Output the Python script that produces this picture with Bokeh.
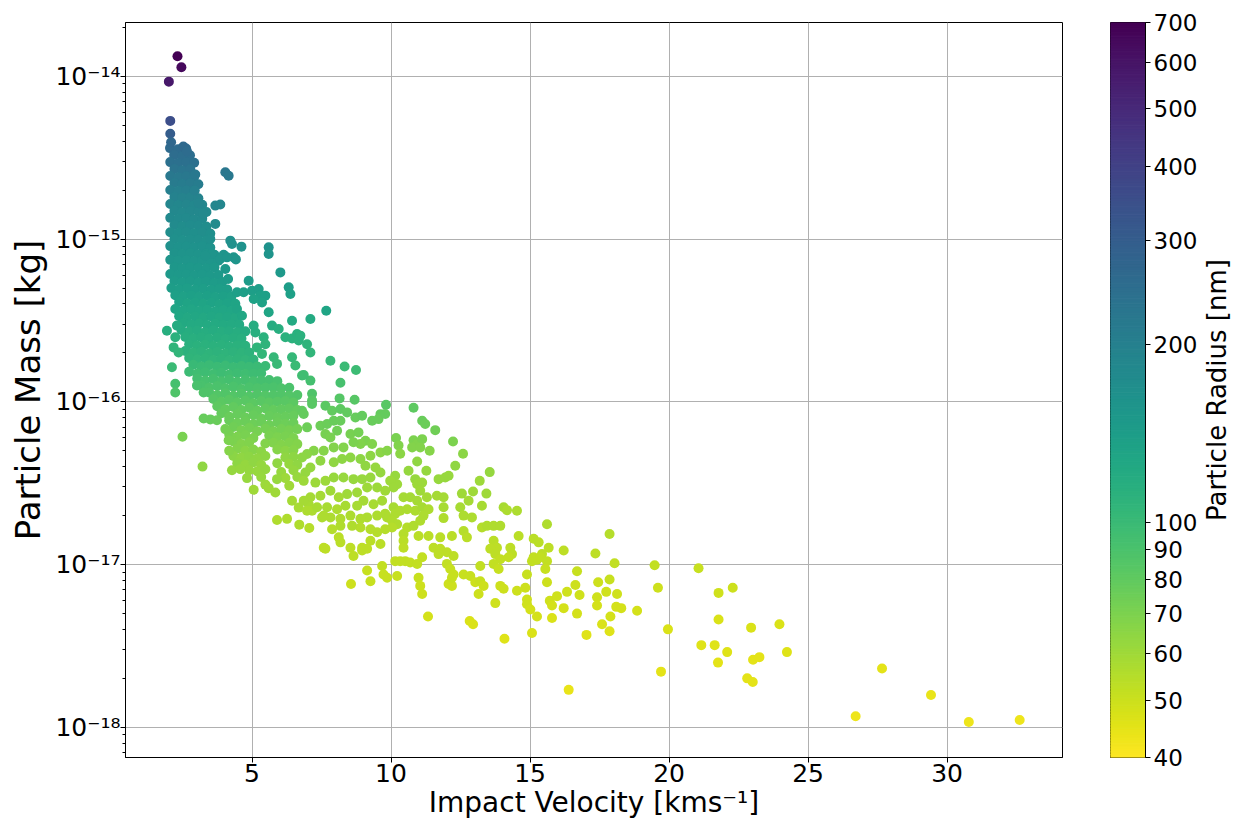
import numpy as np
from bokeh.plotting import figure
from bokeh.layouts import row
from bokeh.models import (ColumnDataSource, Range1d, FixedTicker, CustomJSTickFormatter,
                          PrintfTickFormatter, LogColorMapper)
from bokeh.core.properties import value
from bokeh.palettes import Viridis256
from bokeh.embed import file_html
from bokeh.resources import INLINE

# ---------------- data ----------------
# velocity in km/s, mass in femtograms (1 fg = 1e-18 kg), radius in nm

# dense core of the distribution, listed row by row (top to bottom)
core_velocity = [
    2.05, 2.34, 2.63,
    2.20, 2.50, 2.77,
    2.06, 2.35, 2.64, 2.92,
    2.21, 2.49, 2.78,
    2.06, 2.35, 2.64, 2.92,
    2.21, 2.49, 2.78, 3.07,
    2.06, 2.35, 2.64, 2.92,
    2.21, 2.49, 2.78, 3.07,
    2.06, 2.35, 2.64, 2.92, 3.21,
    2.21, 2.49, 2.78, 3.07, 3.36,
    2.06, 2.35, 2.64, 2.92, 3.21,
    2.21, 2.49, 2.78, 3.07, 3.36,
    2.06, 2.35, 2.64, 2.92, 3.21, 3.50,
    2.21, 2.49, 2.78, 3.07, 3.36,
    2.06, 2.35, 2.64, 2.92, 3.21, 3.50,
    2.21, 2.49, 2.78, 3.07, 3.36, 3.65,
    2.06, 2.35, 2.64, 2.92, 3.21, 3.50, 3.79,
    2.21, 2.49, 2.78, 3.07, 3.36, 3.65,
    2.06, 2.35, 2.64, 2.92, 3.21, 3.50, 3.79,
    2.21, 2.49, 2.78, 3.07, 3.36, 3.65, 3.93,
    2.10, 2.38, 2.67, 2.96, 3.25, 3.54, 3.83, 4.11,
    2.24, 2.53, 2.82, 3.10, 3.39, 3.68, 3.97, 4.26,
    2.38, 2.67, 2.96, 3.25, 3.54, 3.83, 4.11, 4.40,
    2.24, 2.53, 2.82, 3.10, 3.39, 3.68, 3.97, 4.26,
    2.38, 2.67, 2.96, 3.25, 3.54, 3.83, 4.11, 4.40,
    2.53, 2.82, 3.10, 3.39, 3.68, 3.97, 4.26, 4.54,
    2.46, 2.74, 3.03, 3.32, 3.61, 3.90, 4.18, 4.47, 4.76,
    2.60, 2.89, 3.18, 3.46, 3.75, 4.04, 4.33, 4.62,
    2.74, 3.03, 3.32, 3.61, 3.90, 4.18, 4.47, 4.76,
    2.60, 2.89, 3.18, 3.46, 3.75, 4.04, 4.33, 4.62, 4.90,
    2.74, 3.03, 3.32, 3.61, 3.90, 4.18, 4.47, 4.76, 5.05,
    2.89, 3.18, 3.46, 3.75, 4.04, 4.33, 4.62, 4.90, 5.19, 5.48,
    2.74, 3.03, 3.32, 3.61, 3.90, 4.18, 4.47, 4.76, 5.05, 5.33,
    3.03, 3.32, 3.61, 3.90, 4.18, 4.47, 4.76, 5.05, 5.33, 5.62, 5.91,
    3.18, 3.46, 3.75, 4.04, 4.33, 4.62, 4.90, 5.19, 5.48, 5.77, 6.05, 6.34,
    3.46, 3.75, 4.04, 4.33, 4.62, 4.90, 5.19, 5.48, 5.77, 6.05, 6.34, 6.63,
    3.61, 3.90, 4.18, 4.47, 4.76, 5.05, 5.33, 5.62, 5.91, 6.20, 6.49,
    3.75, 4.04, 4.33, 4.62, 4.90, 5.19, 5.48, 5.77, 6.05, 6.34, 6.63,
    3.90, 4.18, 4.47, 4.76, 5.05, 5.33, 5.62, 5.91, 6.20, 6.49,
    4.18, 4.47, 4.76, 5.05, 5.33, 5.62, 5.91, 6.20, 6.49,
    4.33, 4.62, 4.90, 5.19, 5.48, 5.77, 6.05, 6.34, 6.63,
    4.18, 4.47, 4.76, 5.05, 5.62, 5.91, 6.20, 6.49,
    4.33, 4.62, 4.90, 5.48, 5.77, 6.05, 6.34, 6.63,
    4.47, 4.76, 5.05, 5.33, 5.91, 6.20, 6.49,
    4.33, 4.62, 4.90, 5.19, 5.48, 6.20, 6.49,
    4.47, 4.76, 5.05, 5.33, 5.91, 6.34, 6.63,
    4.90, 5.19, 5.48, 6.05, 6.49,
    5.33, 6.20, 6.63,
    5.48, 6.34,
]
core_mass_fg = [
    3620, 3560, 3600,
    3280, 3230, 3270,
    2970, 2930, 2960, 2940,
    2690, 2650, 2680,
    2440, 2400, 2430, 2410,
    2210, 2180, 2200, 2170,
    2000, 1970, 1990, 1980,
    1810, 1790, 1800, 1780,
    1640, 1620, 1630, 1610, 1625,
    1490, 1460, 1480, 1470, 1465,
    1350, 1330, 1340, 1320, 1335,
    1220, 1200, 1215, 1205, 1195,
    1100, 1090, 1105, 1085, 1095, 1080,
    1000, 985, 995, 990, 980,
    905, 895, 900, 890, 902, 888,
    820, 810, 818, 805, 815, 800,
    745, 735, 740, 730, 738, 728, 735,
    672, 662, 670, 665, 660, 668,
    610, 600, 608, 598, 605, 595, 602,
    552, 542, 550, 540, 548, 538, 545,
    500, 492, 498, 490, 495, 488, 494, 490,
    452, 445, 450, 442, 448, 440, 446, 444,
    410, 402, 408, 400, 406, 398, 404, 400,
    372, 364, 370, 362, 368, 360, 366, 362,
    336, 330, 334, 328, 335, 330, 332, 329,
    305, 298, 303, 296, 302, 297, 300, 298,
    276, 270, 274, 268, 275, 270, 272, 268, 271,
    250, 245, 249, 244, 248, 243, 247, 245,
    226, 221, 225, 220, 224, 219, 223, 221,
    205, 200, 204, 199, 203, 198, 202, 200, 201,
    186, 182, 185, 181, 184, 180, 183, 181, 182,
    169, 165, 168, 164, 167, 163, 166, 164, 165, 166,
    153, 149, 152, 148, 151, 147, 150, 148, 149, 150,
    139, 135, 138, 134, 137, 133, 136, 134, 135, 136, 134,
    126, 122, 125, 121, 124, 120, 123, 121, 122, 123, 121, 122,
    114, 110, 113, 109, 112, 108, 111, 109, 110, 111, 109, 110,
    104, 100, 103, 99, 102, 98, 101, 99, 100, 101, 99,
    94, 90, 93, 89, 92, 88, 91, 89, 90, 91, 89,
    85, 81, 84, 80, 83, 79, 82, 80, 81, 82,
    77, 74, 76, 73, 75.5, 72, 75, 73, 74,
    70, 67, 69, 66, 68.5, 66, 68, 67, 68,
    63, 61, 62.5, 60, 62, 60.5, 61.5, 60,
    57, 55, 56.5, 55.5, 56, 54.5, 56, 55,
    51.5, 50, 51, 49.5, 51, 50, 50.5,
    46.5, 45.5, 46, 45, 46.5, 45.5, 46,
    42, 41, 42.5, 41, 42, 41.5, 41,
    38, 37.5, 38.5, 37, 38,
    34.5, 34, 34.5,
    31, 30.5,
]
core_radius_nm = [
    259, 257, 258,
    251, 249, 250,
    244, 242, 243, 242,
    233, 231, 232,
    223, 221, 222, 221,
    213, 211, 212, 211,
    204, 202, 203, 203,
    196, 194, 195, 194,
    189, 187, 188, 187, 188,
    184, 182, 183, 183, 182,
    179, 177, 178, 177, 178,
    175, 173, 174, 174, 173,
    171, 169, 170, 169, 170, 169,
    167, 165, 166, 166, 165,
    164, 162, 163, 162, 163, 162,
    161, 159, 160, 159, 160, 159,
    157, 155, 156, 155, 156, 155, 156,
    154, 152, 153, 153, 152, 153,
    150, 148, 149, 148, 149, 148, 149,
    146, 144, 145, 144, 145, 144, 145,
    142, 140, 141, 140, 141, 140, 141, 140,
    138, 136, 137, 136, 137, 136, 137, 136,
    134, 132, 133, 132, 133, 132, 133, 132,
    130, 128, 129, 128, 129, 128, 129, 128,
    127, 125, 126, 125, 126, 125, 126, 125,
    123, 121, 122, 121, 122, 121, 122, 121,
    120, 118, 119, 118, 119, 118, 119, 118, 119,
    117, 115, 116, 115, 116, 115, 116, 115,
    114, 112, 113, 112, 113, 112, 113, 112,
    111, 109, 110, 109, 110, 109, 110, 109, 110,
    108, 106, 107, 106, 107, 106, 107, 106, 107,
    101, 99, 100, 99, 100, 99, 100, 99, 100, 100,
    98, 96, 97, 96, 97, 96, 97, 96, 97, 97,
    94, 92, 93, 92, 93, 92, 93, 92, 93, 93, 92,
    91, 89, 90, 89, 90, 89, 90, 89, 90, 90, 89, 90,
    88, 86, 87, 86, 87, 86, 87, 86, 87, 87, 86, 87,
    84, 82, 83, 82, 83, 82, 83, 82, 83, 83, 82,
    81, 79, 80, 79, 80, 79, 80, 79, 80, 80, 79,
    79, 77, 78, 77, 78, 77, 78, 77, 78, 78,
    77, 75, 76, 75, 76, 75, 76, 75, 76,
    74, 72, 73, 72, 73, 72, 73, 72, 73,
    72, 70, 71, 70, 71, 70, 71, 70,
    70, 68, 69, 68, 69, 68, 69, 68,
    68, 66, 67, 66, 67, 66, 67,
    66, 64, 65, 64, 65, 64, 65,
    65, 63, 64, 63, 64, 63, 64,
    63, 62, 63, 62, 63,
    62, 61, 62,
    61, 60,
]

# individual points: top outliers, edge of the core, mid-range cloud and the tail
tail_velocity = [
    # top outliers and upper edge
    2.32, 2.46, 2.01, 2.06, 2.06, 2.09, 2.53, 2.66, 4.04, 4.16,
    2.96, 2.94, 3.08, 3.68, 3.86, 3.25, 3.68, 3.50, 4.22, 4.28,
    4.62, 5.60, 5.60, 3.56, 3.98, 4.34, 4.42, 3.32, 3.86, 4.10,
    4.04, 4.14, 6.02, 4.88, 4.46, 4.70, 5.00, 5.24, 5.30, 5.48,
    5.36, 5.06, 6.32, 6.38, 5.60, 7.67, 4.46, 4.64, 6.44, 7.10,
    5.72, 5.96, 5.42, 5.12, 5.06, 6.20, 6.44, 6.62, 6.68, 6.98,
    7.10, 5.18, 5.48, 5.36, 5.78, 5.90, 6.44, 6.56, 6.80, 7.10,
    1.94, 2.30, 2.24, 2.18, 2.36, 2.12, 2.24, 2.24, 3.02, 3.26,
    6.74, 7.82, 8.33, 8.74, 6.86, 8.18, 7.16, 7.16, 8.15, 8.69,
    9.82, 9.62, 6.80,
    # lower edge of the core
    3.50, 3.26, 3.74, 2.50, 3.22, 4.04, 4.16, 4.18, 4.28, 4.58,
    4.82, 5.06, 5.60, 5.84, 5.90, 5.90, 6.26, 6.70, 7.06, 6.44,
    6.68, 7.04, 7.16, 7.52, 7.58,
    # cloud 10-16 km/s
    10.81, 11.12, 11.23, 11.59, 12.23, 12.59, 13.55, 10.18, 10.27, 10.33,
    10.81, 10.94, 11.12, 10.76, 11.05, 11.39, 10.94, 11.27, 10.63, 12.31,
    11.71, 11.95, 12.07, 13.19, 10.15, 10.22, 10.87, 10.94, 11.12, 11.05,
    12.55, 12.95, 13.43, 10.45, 10.69, 10.94, 11.29, 11.65, 11.89, 12.79,
    12.49, 13.27, 11.89, 14.05, 14.17, 14.53, 12.61, 12.91, 11.89, 10.09,
    10.15, 10.33, 10.58, 10.87, 11.12, 11.35, 9.86, 10.04, 10.22, 10.58,
    10.81, 11.05, 11.17, 13.27, 13.45, 13.69, 13.93, 12.61, 12.73, 10.45,
    10.45, 10.45, 10.99, 11.35, 11.77, 12.19, 14.59, 11.53, 11.77, 12.01,
    11.71, 12.25, 13.69, 13.81, 13.57, 13.75, 13.93, 14.29, 14.35, 14.23,
    15.13, 15.31, 15.67, 15.43, 15.25, 15.07, 15.61, 10.15, 10.33, 10.51,
    10.69, 11.12, 10.94, 9.68, 9.73, 9.86, 10.22, 9.14, 9.26, 8.56,
    10.99, 11.05, 11.12, 12.01, 12.13, 12.25, 12.07, 12.19, 12.61, 12.85,
    13.03, 13.21, 13.33, 13.15, 13.69, 13.87, 13.93, 14.05, 14.53, 14.89,
    15.13, 15.37, 15.61, 15.61, 14.89,
    # cloud 7-10 km/s
    7.16, 7.64, 7.88, 8.18, 8.42, 8.72, 8.96, 9.32, 9.55, 9.79,
    6.86, 6.98, 7.46, 7.70, 7.94, 8.18, 8.06, 7.64, 7.82, 8.54,
    8.83, 9.08, 9.32, 8.90, 8.65, 8.29, 7.94, 7.58, 7.22, 6.98,
    6.80, 9.62, 9.86, 9.26, 8.90, 8.54, 8.24, 7.94, 7.46, 7.10,
    6.92, 9.08, 9.44, 9.62, 9.26, 8.96, 8.65, 8.29, 7.94, 7.64,
    7.28, 6.86, 9.97, 10.09, 9.79, 9.50, 9.14, 8.78, 8.42, 8.12,
    7.82, 7.46, 7.10, 6.86, 9.68, 9.37, 9.01, 8.78, 8.36, 8.06,
    7.70, 7.34, 6.98, 9.79, 9.50, 9.14, 8.90, 8.54, 8.18, 7.82,
    7.58, 10.04, 9.79, 9.50, 9.26, 8.90, 8.60, 8.18, 7.88, 9.62,
    9.26, 8.96, 8.54, 8.12, 8.18, 7.64, 8.65, 8.96, 9.14,
    # tail
    12.19, 13.75, 14.83, 14.89, 15.01, 15.25, 15.07, 11.33, 12.83, 12.95,
    14.08, 15.71, 15.79, 15.79, 15.97, 16.33, 16.63, 16.78, 16.69, 16.21,
    16.69, 17.03, 17.45, 17.86, 17.41, 17.74, 18.13, 17.41, 18.10, 18.28,
    17.89, 17.59, 17.86, 18.85, 16.39, 18.04, 16.21, 15.55, 17.35, 17.86,
    19.48, 19.60, 19.96, 19.71, 21.06, 21.78, 22.29, 21.78, 22.95, 21.16,
    21.64, 22.09, 21.76, 23.02, 23.25, 22.81, 23.01, 23.97, 24.24, 26.71,
    27.66, 29.42, 30.78, 32.61, 13.21,
]
tail_mass_fg = [
    13270, 11360, 9270, 5320, 4430, 3930, 3700, 3460, 2570, 2450,
    2490, 1985, 1658, 1605, 1630, 1433, 1239, 1002, 978, 933,
    898, 889, 809, 809, 800, 772, 750, 791, 755, 772,
    655, 569, 624, 555, 471, 471, 482, 493, 449, 449,
    408, 428, 505, 460, 355, 363, 372, 338, 315, 323,
    294, 280, 249, 267, 294, 249, 245, 261, 238, 226,
    201, 216, 226, 197, 188, 171, 188, 167, 145, 135,
    273, 294, 249, 216, 201, 163, 129, 114, 126, 114,
    255, 179, 165, 157, 146, 131, 112, 102, 105, 103,
    96, 84, 88,
    78, 79, 77, 61, 40, 68, 58, 50, 38, 38.6,
    34, 28.8, 29.5, 27.7, 33.5, 18.8, 19.1, 17.6, 16.8, 24.7,
    22.4, 23.5, 21.4, 19.5, 12.7,
    92, 76.5, 73, 67, 57, 48, 37, 60, 54, 48,
    58, 55, 59, 52.5, 52.5, 50, 43, 37.7, 37.7, 40.5,
    33.5, 34.3, 35.1, 32.7, 35.1, 31.2, 33.5, 31.2, 31.9, 28.4,
    27.3, 28.1, 27.3, 25.9, 25.9, 24.7, 25.9, 26.5, 25.9, 24.7,
    22.5, 23.0, 22.5, 22.5, 21.6, 21.4, 20.0, 19.5, 19.3, 22.5,
    20.5, 21.4, 21.9, 21.4, 22.5, 21.9, 19.5, 18.6, 17.7, 16.9,
    17.3, 18.6, 20.0, 16.9, 17.3, 17.3, 17.3, 16.1, 14.7, 15.4,
    14.0, 12.7, 15.0, 15.0, 14.7, 15.0, 15.0, 12.7, 12.5, 11.9,
    11.6, 11.3, 14.0, 12.7, 12.5, 11.6, 10.8, 12.7, 11.6, 11.1,
    14.4, 13.7, 12.7, 11.6, 10.7, 10.5, 17.7, 10.5, 10.5, 10.5,
    10.3, 11.1, 10.1, 9.8, 8.7, 8.3, 8.5, 9.2, 7.9, 7.6,
    8.3, 7.4, 6.6, 10.1, 9.4, 8.7, 7.6, 7.4, 8.7, 8.5,
    7.8, 7.9, 7.4, 6.6, 10.1, 9.4, 7.4, 7.1, 6.9, 8.7,
    11.1, 11.1, 10.5, 7.8, 6.1,
    97, 94.6, 88.2, 90.3, 86.1, 80.2, 82.2, 76.5, 78.3, 84.1,
    84.1, 69.7, 71.3, 73.0, 76.5, 76.5, 66.4, 63.4, 60.4, 63.4,
    64.9, 57.7, 55.1, 55.1, 56.4, 52.5, 52.5, 50.1, 50.1, 47.8,
    45.5, 48.9, 50.1, 46.6, 44.5, 45.5, 44.5, 42.5, 43.5, 39.5,
    36.8, 40.5, 39.5, 36.8, 34.3, 33.5, 33.5, 34.3, 34.3, 32.7,
    31.9, 32.7, 32.7, 29.8, 28.4, 29.8, 29.8, 27.7, 27.1, 25.9,
    28.4, 26.5, 25.9, 24.7, 24.7, 23.5, 24.7, 23.0, 23.0, 21.9,
    22.5, 22.5, 21.4, 20.5, 20.0, 19.5, 19.1, 20.0, 19.1, 19.5,
    20.0, 16.9, 16.5, 15.8, 16.5, 16.9, 17.3, 17.3, 16.5, 13.4,
    14.0, 12.7, 12.7, 14.7, 13.7, 12.5, 11.3, 12.2, 12.5,
    8.3, 5.8, 7.2, 5.7, 5.3, 4.8, 3.8, 4.8, 4.5, 4.3,
    3.5, 6.0, 5.6, 4.7, 6.4, 6.8, 7.5, 6.5, 9.1, 5.4,
    5.0, 3.7, 7.8, 8.1, 6.3, 6.8, 6.6, 5.6, 5.5, 5.4,
    4.8, 4.3, 3.9, 5.2, 1.7, 10.2, 12.2, 9.4, 11.7, 15.4,
    9.9, 7.2, 4.0, 2.2, 9.5, 6.7, 7.2, 4.6, 4.1, 3.2,
    3.2, 2.9, 2.5, 2.6, 2.7, 2.0, 1.9, 4.3, 2.9, 1.17,
    2.3, 1.58, 1.08, 1.11, 9.8,
]
tail_radius_nm = [
    700, 650, 580, 350, 300, 270, 262, 255, 226, 222,
    223, 202, 190, 188, 189, 182, 176, 167, 166, 165,
    163, 163, 160, 160, 159, 158, 157, 159, 157, 158,
    152, 146, 150, 145, 139, 139, 140, 141, 137, 137,
    134, 135, 142, 138, 130, 130, 131, 127, 121, 122,
    119, 117, 113, 115, 119, 113, 112, 114, 111, 109,
    106, 108, 109, 105, 104, 101, 104, 100, 96, 93,
    116, 119, 113, 108, 106, 100, 92, 88, 91, 88,
    113, 103, 100, 98, 96, 92, 88, 84, 85, 84,
    83, 79, 80,
    78, 78, 77, 71, 64, 73, 70, 67, 63, 63,
    62, 60, 60, 60, 62, 56, 56, 56, 55, 59,
    58, 58, 57, 57, 53,
    81, 77, 76, 74, 70, 66, 63, 71, 69, 66,
    70, 69, 70, 68, 68, 67, 64, 63, 63, 64,
    62, 62, 62, 61, 62, 61, 62, 61, 61, 60,
    60, 60, 60, 59, 59, 59, 59, 59, 59, 59,
    58, 58, 58, 58, 57, 57, 57, 57, 56, 58,
    57, 57, 57, 57, 58, 57, 57, 56, 56, 55,
    56, 56, 57, 55, 56, 56, 56, 55, 54, 55,
    54, 53, 54, 54, 54, 54, 54, 53, 53, 53,
    53, 53, 54, 53, 53, 53, 52, 53, 53, 52,
    54, 54, 53, 53, 52, 52, 56, 52, 52, 52,
    52, 52, 52, 52, 51, 51, 51, 51, 51, 50,
    51, 50, 50, 52, 51, 51, 50, 50, 51, 51,
    50, 51, 50, 50, 52, 51, 50, 50, 50, 51,
    52, 52, 52, 50, 49,
    83, 82, 80, 81, 80, 78, 79, 77, 77, 79,
    79, 75, 75, 76, 77, 77, 74, 72, 71, 72,
    73, 70, 69, 69, 70, 68, 68, 67, 67, 66,
    65, 66, 67, 65, 65, 65, 65, 64, 64, 63,
    63, 64, 63, 63, 62, 62, 62, 62, 62, 61,
    61, 61, 61, 61, 60, 61, 61, 60, 60, 59,
    60, 59, 59, 59, 59, 58, 59, 58, 58, 57,
    58, 58, 57, 57, 57, 57, 56, 57, 56, 57,
    57, 55, 55, 55, 55, 55, 56, 56, 55, 54,
    54, 53, 53, 54, 54, 53, 53, 53, 53,
    51, 49, 50, 49, 48, 48, 47, 48, 47, 47,
    46, 49, 48, 47, 49, 49, 50, 49, 51, 48,
    48, 46, 50, 51, 49, 49, 49, 48, 48, 48,
    48, 47, 46, 48, 44, 52, 53, 51, 53, 55,
    52, 50, 47, 45, 51, 49, 50, 47, 47, 46,
    46, 46, 45, 45, 45, 45, 45, 47, 46, 43,
    45, 44, 43, 43, 52,
]

x_ticks = [5, 10, 15, 20, 25, 30]
y_ticks = [1e-18, 1e-17, 1e-16, 1e-15, 1e-14]
radius_ticks = [40, 50, 60, 70, 80, 90, 100, 200, 300, 400, 500, 600, 700]
radius_low, radius_high = 40, 700

x_label = "Impact Velocity [kms\u207b\u00b9]"
y_label = "Particle Mass [kg]"
cbar_label = "Particle Radius [nm]"

# ---------------- build ----------------
if not (len(core_velocity) == len(core_mass_fg) == len(core_radius_nm)):
    raise SystemExit("core lengths %d %d %d" % (len(core_velocity), len(core_mass_fg), len(core_radius_nm)))
if not (len(tail_velocity) == len(tail_mass_fg) == len(tail_radius_nm)):
    raise SystemExit("tail lengths %d %d %d" % (len(tail_velocity), len(tail_mass_fg), len(tail_radius_nm)))

velocity = core_velocity + tail_velocity
mass_kg = (np.array(core_mass_fg + tail_mass_fg, dtype=float) * 1e-18).tolist()
radius = core_radius_nm + tail_radius_nm

FONT = "DejaVu Sans"
palette = list(reversed(Viridis256))
mapper = LogColorMapper(palette=palette, low=radius_low, high=radius_high)

src = ColumnDataSource(dict(v=velocity, m=mass_kg, r=radius))

TOP, FRAME_H, BOTTOM = 22, 735, 65
H = TOP + FRAME_H + BOTTOM

p = figure(width=1072, height=H, title=None,
           x_range=Range1d(0.45, 34.15), y_range=Range1d(6.53e-19, 2.14e-14),
           y_axis_type="log", output_backend="svg", toolbar_location=None,
           min_border_left=125, min_border_right=10, min_border_top=TOP, min_border_bottom=BOTTOM)
p.scatter("v", "m", source=src, size=10, marker="circle",
          fill_color={"field": "r", "transform": mapper}, line_color=None)

p.background_fill_color = "white"
p.border_fill_color = "white"
p.outline_line_color = "black"
p.outline_line_width = 1
p.grid.grid_line_color = "#b0b0b0"
p.grid.grid_line_width = 1

minor = [k * 10.0 ** n for n in range(-19, -13) for k in range(2, 10)]
p.xaxis.ticker = FixedTicker(ticks=x_ticks)
p.yaxis.ticker = FixedTicker(ticks=y_ticks, minor_ticks=minor)
p.yaxis.formatter = CustomJSTickFormatter(code="""
const sup = {"-": "\\u207b", "0": "\\u2070", "1": "\\u00b9", "2": "\\u00b2", "3": "\\u00b3",
             "4": "\\u2074", "5": "\\u2075", "6": "\\u2076", "7": "\\u2077", "8": "\\u2078", "9": "\\u2079"};
const e = Math.round(Math.log10(tick));
return "10" + String(e).split("").map(c => sup[c]).join("");
""")
p.xaxis.axis_label = x_label
p.yaxis.axis_label = y_label

for ax in (p.xaxis[0], p.yaxis[0]):
    ax.axis_line_color = "black"
    ax.major_tick_line_color = "black"
    ax.major_tick_out = 5
    ax.major_tick_in = 0
    ax.minor_tick_line_color = "black"
    ax.minor_tick_out = 3
    ax.minor_tick_in = 0
    ax.major_label_text_font = FONT
    ax.major_label_text_font_size = "25px"
    ax.major_label_text_color = "black"
    ax.axis_label_text_font = FONT
    ax.axis_label_text_font_style = "normal"
    ax.axis_label_text_color = "black"
p.xaxis.minor_tick_line_color = None
p.xaxis.major_label_standoff = 1
p.xaxis.axis_label_standoff = 1
p.xaxis.axis_label_text_font_size = "28px"
p.yaxis.major_label_standoff = 0
p.yaxis.axis_label_standoff = 4
p.yaxis.axis_label_text_font_size = "34px"

# ---------------- colour bar: its own log axis 40..700 on the right ----------------
cb = figure(width=128, height=H, title=None,
            x_range=Range1d(0, 1), y_range=Range1d(radius_low, radius_high),
            y_axis_type="log", x_axis_location=None, y_axis_location="right",
            output_backend="svg", toolbar_location=None,
            min_border_left=38, min_border_right=52, min_border_top=TOP, min_border_bottom=BOTTOM)
cb.grid.visible = False
cb.outline_line_color = "black"
cb.outline_line_width = 1
cb.background_fill_color = "white"
cb.border_fill_color = "white"

edges = np.logspace(np.log10(radius_low), np.log10(radius_high), len(palette) + 1)
cb.quad(left=0, right=1, bottom=edges[:-1], top=edges[1:],
        fill_color=palette, line_color=palette, line_width=1)

ya = cb.yaxis[0]
ya.ticker = FixedTicker(ticks=radius_ticks, minor_ticks=[])
ya.formatter = PrintfTickFormatter(format="%d")
ya.axis_line_color = "black"
ya.major_tick_line_color = "black"
ya.major_tick_out = 5
ya.major_tick_in = 0
ya.minor_tick_line_color = None
ya.major_label_standoff = 3
ya.major_label_text_font = FONT
ya.major_label_text_font_size = "23px"
ya.major_label_text_color = "black"

# ---------------- colour-bar title (reads bottom to top) ----------------
lab = figure(width=33, height=H, title=None,
             x_range=Range1d(0, 33), y_range=Range1d(0, FRAME_H),
             x_axis_location=None, y_axis_location=None,
             output_backend="svg", toolbar_location=None,
             min_border_left=0, min_border_right=0, min_border_top=TOP, min_border_bottom=BOTTOM)
lab.grid.visible = False
lab.outline_line_color = None
lab.background_fill_color = "white"
lab.border_fill_color = "white"
lab.text(x=[16.5], y=[FRAME_H / 2], text=[cbar_label],
         angle=np.pi / 2, text_font=value(FONT), text_font_size="26px", text_color="black",
         text_align="center", text_baseline="middle")

layout = row(p, cb, lab)
with open("out.html", "w", encoding="utf-8") as f:
    f.write(file_html(layout, INLINE))
